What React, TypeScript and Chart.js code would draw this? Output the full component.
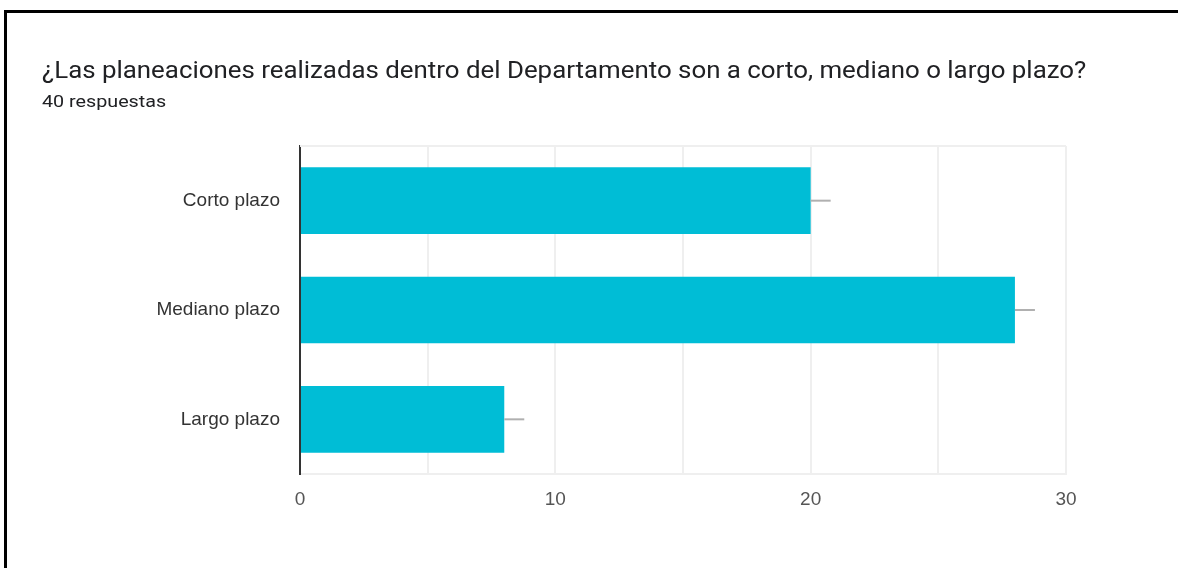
import React, { useEffect, useRef } from "react";
import { Chart, registerables } from "chart.js";

Chart.register(...registerables);

const categories = ["Corto plazo", "Mediano plazo", "Largo plazo"];
const counts = [20, 28, 8];
const xTicks = [0, 10, 20, 30];
const titleText = "¿Las planeaciones realizadas dentro del Departamento son a corto, mediano o largo plazo?";
const subtitleText = "40 respuestas";

const leaderPlugin = {
  id: "leaderLines",
  beforeDatasetsDraw(chart: any) {
    const { ctx, chartArea } = chart;
    ctx.save();
    ctx.strokeStyle = "#efefef";
    ctx.lineWidth = 2;
    ctx.beginPath();
    ctx.moveTo(chartArea.left, chartArea.top);
    ctx.lineTo(chartArea.right, chartArea.top);
    ctx.stroke();
    ctx.restore();
  },
  afterDatasetsDraw(chart: any) {
    const { ctx } = chart;
    const meta = chart.getDatasetMeta(0);
    ctx.save();
    ctx.strokeStyle = "#b0b0b0";
    ctx.lineWidth = 2;
    meta.data.forEach((bar: any) => {
      ctx.beginPath();
      ctx.moveTo(bar.x, bar.y);
      ctx.lineTo(bar.x + 20, bar.y);
      ctx.stroke();
    });
    ctx.restore();
  },
};

const labelFont = "'Liberation Sans', Arial, sans-serif";

export default function App() {
  const ref = useRef<HTMLCanvasElement>(null);
  useEffect(() => {
    document.body.style.margin = "0";
    const chart = new Chart(ref.current!, {
      type: "bar",
      data: {
        labels: categories,
        datasets: [
          {
            data: counts,
            backgroundColor: "#00bdd6",
            borderWidth: 0,
            barPercentage: 0.61,
            categoryPercentage: 1,
          },
        ],
      },
      options: {
        indexAxis: "y",
        animation: false,
        responsive: false,
        maintainAspectRatio: false,
        layout: { padding: { top: 146, right: 112, left: 0, bottom: 0 } },
        plugins: { legend: { display: false }, tooltip: { enabled: false } },
        scales: {
          x: {
            min: 0,
            max: 30,
            afterFit: (s: any) => {
              s.height = 94;
            },
            afterBuildTicks: (s: any) => {
              s.ticks = [0, 5, 10, 15, 20, 25, 30].map((v) => ({ value: v }));
            },
            ticks: {
              padding: 14,
              color: "#555555",
              font: { family: labelFont, size: 19 },
              callback: (v: any) => (xTicks.includes(Number(v)) ? String(v) : ""),
            },
            grid: { color: "#efefef", lineWidth: 2, drawTicks: false },
            border: { color: "#efefef", width: 2 },
          },
          y: {
            afterFit: (s: any) => {
              s.width = 300;
            },
            ticks: {
              padding: 20,
              color: "#333333",
              font: { family: labelFont, size: 19 },
            },
            grid: { display: false, drawTicks: false },
            border: { color: "#333333", width: 2 },
          },
        },
      },
      plugins: [leaderPlugin],
    });
    return () => chart.destroy();
  }, []);

  return (
    <div style={{ position: "relative", width: 1178, height: 568, background: "#ffffff", overflow: "hidden" }}>
      <div
        style={{
          position: "absolute",
          left: 4,
          top: 10,
          width: 1200,
          height: 600,
          borderTop: "3px solid #000",
          borderLeft: "3px solid #000",
        }}
      />
      <canvas ref={ref} width={1178} height={568} style={{ position: "absolute", left: 0, top: 0 }} />
      <div
        style={{
          position: "absolute",
          left: 42,
          top: 54,
          fontFamily: "Roboto",
          fontSize: 24,
          color: "#202124",
          whiteSpace: "nowrap",
          lineHeight: "32px",
          transform: "scaleX(1.077)",
          transformOrigin: "left center",
        }}
      >
        {titleText}
      </div>
      <div
        style={{
          position: "absolute",
          left: 42,
          top: 90,
          fontFamily: "Roboto",
          fontSize: 17,
          color: "#202124",
          whiteSpace: "nowrap",
          lineHeight: "22px",
          transform: "scaleX(1.16)",
          transformOrigin: "left center",
        }}
      >
        {subtitleText}
      </div>
    </div>
  );
}
